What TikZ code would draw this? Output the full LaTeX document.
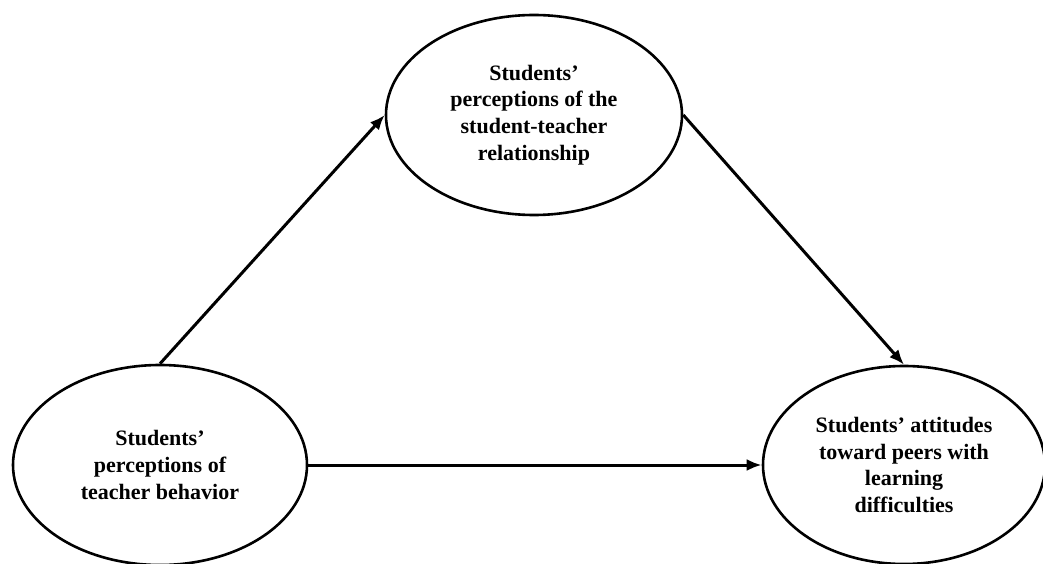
\documentclass[tikz,border=0pt]{standalone}
\usepackage{fontspec}
\setmainfont{Liberation Serif}
\usetikzlibrary{arrows.meta,shapes.geometric}
\begin{document}
\begin{tikzpicture}[x=1pt,y=1pt,
  oval/.style={ellipse,draw,line width=2.6pt,inner sep=0pt,align=center,
    font=\fontsize{22}{26.6}\selectfont\bfseries},
  link/.style={line width=3pt,-{Latex[length=15pt,width=12pt]}}]
\useasboundingbox (0,0) rectangle (1043,563);
\clip (0,0) rectangle (1043,563);
\fill[white] (0,0) rectangle (1043,563);
\node[oval,minimum width=296pt,minimum height=200pt] (top) at (534,448)
  {Students’\\perceptions of the\\student-teacher\\relationship};
\node[oval,minimum width=294pt,minimum height=200pt] (left) at (160,98)
  {Students’\\perceptions of\\teacher behavior};
\node[oval,minimum width=282pt,minimum height=198pt] (right) at (904,98)
  {Students’ attitudes\\toward peers with\\learning\\difficulties};
\draw[link] (left.north) -- (top.west);
\draw[link] (top.east) -- (right.north);
\draw[link] (left.east) -- (right.west);
\end{tikzpicture}
\end{document}
